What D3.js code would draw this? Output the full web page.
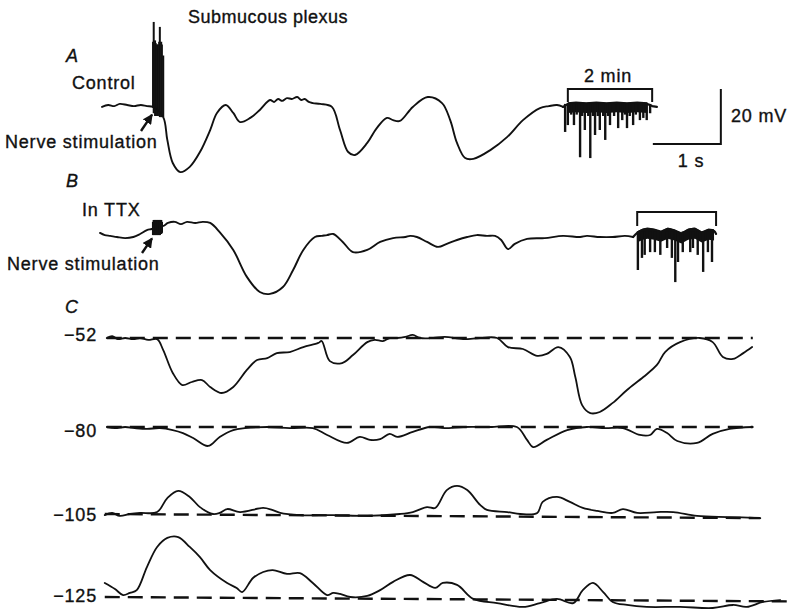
<!DOCTYPE html>
<html><head><meta charset="utf-8">
<script src="https://cdn.jsdelivr.net/npm/d3@7"></script>
<style>
body{margin:0;background:#fff}
text{font-family:"Liberation Sans",Arial,Helvetica,sans-serif;font-size:18px;letter-spacing:0.8px;fill:#111;stroke:#111;stroke-width:0.35px}
</style>
</head><body>
<svg id="chart" width="789" height="610"></svg>
<script>
// ---------------- DATA (time in s, potential in mV) ----------------
// Panel A: control, deflection from resting potential
const traceA_t = [0.03,0.12,0.21,0.29,0.40,0.50,0.60,0.69,0.78,0.93,0.99,1.07,1.18,1.32,1.47,1.62,1.72,1.85,1.96,2.06,2.21,2.35,2.50,2.56,2.62,2.68,2.75,2.82,2.90,2.96,3.01,3.07,3.13,3.24,3.41,3.53,3.65,3.75,3.93,4.07,4.22,4.31,4.41,4.60,4.82,5.03,5.15,5.25,5.37,5.49,5.74,5.99,6.22,6.47,6.60,6.72,6.81];
const traceA_v = [-0.7,0,-0.4,0.4,0,-0.4,0,-0.4,-0.7,-4.4,-12.7,-21.1,-24.4,-22.5,-17.1,-9.1,-2.9,0,-2.9,-6.2,-4.7,-1.8,1.8,1.1,2.2,1.5,2.5,2.2,2.9,1.8,2.2,1.1,0.7,0.4,-0.7,-9.1,-17.1,-18.2,-13.8,-8.4,-4.7,-5.5,-5.8,-0.7,2.9,0.7,-5.5,-13.8,-19.3,-19.6,-16.4,-11.6,-5.5,-1.1,-0.4,0,-0.7];
const burstA_t  = [0.78,0.79,0.81,0.82,0.84,0.85,0.87,0.88,0.90,0.91,0.93];
const burstA_hi = [23,30.2,23.5,22.5,22,22,23,28.4,23,22,18];
const burstA_lo = [-1,-3,-4,-4,-4,-4,-4,-4.4,-4.4,-4.4,-4.4];
const spontA_baseT = [6.81,6.88,7.00,7.15,7.30,7.45,7.60,7.75,7.90,8.05,8.12,8.19];
const spontA_baseV = [-0.7,0.4,0.7,0.4,0.7,0.4,0.7,0.4,0.7,0.4,-0.4,-0.7];
const spontA_t = [6.84,6.88,6.93,6.97,7.01,7.06,7.09,7.13,7.18,7.21,7.25,7.28,7.32,7.35,7.40,7.43,7.47,7.50,7.56,7.62,7.68,7.72,7.75,7.79,7.84,7.88,7.94,7.99,8.04,8.09];
const spontA_v = [-9.8,-7.3,-3.5,-7.3,-3.5,-19,-4,-9.1,-4,-19.3,-4,-10.9,-4,-9.1,-4,-12.7,-4,-7.3,-4,-8.4,-5.5,-3.5,-8.4,-4,-7.3,-3.5,-5.5,-4.7,-5.5,-3];
const bracketA_t = [6.88, 8.12];

// Panel B: in TTX
const traceB_t = [0,0.07,0.15,0.25,0.37,0.49,0.59,0.69,0.76,0.93,1.00,1.10,1.19,1.28,1.40,1.51,1.62,1.76,1.96,2.16,2.35,2.50,2.69,2.84,2.99,3.16,3.26,3.34,3.43,3.57,3.72,3.93,4.12,4.31,4.49,4.56,4.66,4.81,4.97,5.10,5.25,5.40,5.54,5.69,5.81,5.90,6.00,6.10,6.28,6.54,6.81,7.06,7.16,7.35,7.54,7.72,7.84];
const traceB_v = [1.5,0.7,0.4,0,-0.4,0,1.1,2.5,2.9,4,5.1,5.5,4.7,5.5,5.1,5.5,5.1,1.8,-4.7,-14.5,-20,-20.7,-18.2,-12,-4.7,0,0.4,0.7,1.1,-1.8,-5.5,-4.7,-1.8,-0.4,0,0.4,0,-1.8,-3.6,-2.5,-1.1,0,0.7,0.4,0.4,-1.1,-4.4,-2.5,-0.7,-0.4,0.4,0,0.4,0,0,0.4,0];
const burstB_t  = [0.78,0.79,0.81,0.82,0.84,0.85,0.87,0.88,0.90,0.91];
const burstB_hi = [5.5,6.2,6.2,6.2,6.2,6.2,6.2,6.2,6.2,5.5];
const burstB_lo = [0.7,0.7,0.7,0.7,0.7,0.7,0.7,0.7,1.1,1.5];
const spontB_baseT = [7.84,7.90,7.98,8.05,8.15,8.25,8.35,8.45,8.55,8.65,8.75,8.85,8.95,9.03,9.06];
const spontB_baseV = [0,1.5,2.5,2.9,2.5,1.8,2.9,2.2,1.1,2.5,2.9,1.5,2.5,2.2,1.1];
const spontB_t = [7.91,7.97,8.01,8.09,8.16,8.24,8.34,8.41,8.46,8.50,8.57,8.68,8.72,8.79,8.87,8.94,9.00];
const spontB_v = [-12,-7.6,-6.5,-5.5,-5.5,-6.5,-4,-7.6,-16.4,-9.1,-5.5,-5.5,-4,-6.5,-12.7,-5.5,-9.1];
const bracketB_t = [7.90, 9.06];

// Panel C: holding potentials (mV) and traces (absolute mV)
const levelsC = [-52, -80, -105, -125];
const levelLabelsC = ["\u221252", "\u221280", "\u2212105", "\u2212125"];
const dashEndT = [9.6, 9.6, 9.71, 10.13];
const dashEndV = [-52, -80, -106.5, -126.6];
const c1_t = [0.10,0.18,0.26,0.37,0.49,0.59,0.71,0.84,0.93,1.07,1.21,1.35,1.50,1.62,1.79,1.96,2.16,2.31,2.46,2.60,2.79,2.99,3.21,3.26,3.38,3.56,3.72,3.93,4.04,4.16,4.26,4.37,4.49,4.60,4.71,4.90,5.07,5.34,5.59,5.84,6.00,6.22,6.43,6.57,6.74,6.91,6.99,7.09,7.21,7.35,7.54,7.75,7.99,8.19,8.31,8.53,8.82,9.01,9.16,9.31,9.46,9.59];
const c1_v = [-52,-51.3,-52.4,-52,-52.4,-52,-52.7,-52.4,-56.4,-64.7,-69.1,-68,-67.3,-69.8,-72,-69.8,-63.6,-60,-59.3,-57.5,-57.1,-55.3,-53.8,-53.1,-60.4,-61.1,-58.2,-53.5,-52.7,-53.1,-52,-52,-51.6,-50.9,-52,-52,-51.6,-52.4,-52,-52,-55.3,-56,-58.5,-57.8,-55.3,-58.9,-66.2,-76.4,-79.3,-78.9,-75.6,-70.9,-66.2,-61.8,-57.1,-53.5,-52,-53.5,-58.9,-59.6,-57.5,-55.3];
const c2_t = [0.10,0.22,0.37,0.51,0.69,0.88,1.07,1.22,1.37,1.59,1.76,1.96,2.13,2.46,2.79,3.13,3.34,3.63,3.82,3.97,4.12,4.26,4.37,4.60,4.85,5.07,5.34,5.74,6.13,6.28,6.37,6.57,6.87,7.16,7.43,7.69,7.94,8.09,8.19,8.34,8.49,8.78,9.01,9.26,9.60];
const c2_v = [-80,-80.4,-80,-80.4,-80.7,-80.4,-81.1,-82.2,-84,-86.9,-83.6,-81.1,-80.4,-80,-80.4,-80.4,-82.9,-85.8,-83.6,-84.7,-84.4,-82.5,-83.6,-81.8,-80,-80.4,-80,-80,-80,-84.7,-87.3,-84.7,-81.1,-80,-80.4,-80.4,-82.9,-82.9,-80.7,-82.2,-85.1,-85.8,-82.5,-80.7,-80];
const c3_t = [0.07,0.18,0.29,0.44,0.59,0.84,0.99,1.15,1.32,1.47,1.66,1.76,1.87,2.06,2.40,2.53,2.65,2.94,3.43,3.93,4.41,4.60,4.81,4.93,5.10,5.25,5.40,5.59,5.69,5.99,6.18,6.43,6.51,6.72,6.91,7.10,7.31,7.54,7.69,7.90,8.19,8.43,8.78,9.26,9.71];
const c3_v = [-105.4,-104.6,-105.7,-105,-104.6,-104.3,-99.2,-96.6,-98.8,-102.5,-105,-104.6,-103.2,-104.3,-102.8,-103.5,-104.6,-105.4,-105.4,-105.7,-105,-104.3,-102.5,-102.8,-96.3,-94.8,-96.3,-101.7,-103.5,-104.3,-105,-104.6,-100.6,-98.8,-100.6,-102.8,-103.9,-104.6,-103.2,-104.6,-104.3,-104.3,-105.7,-106.1,-106.5];
const c4_t = [0.07,0.22,0.34,0.44,0.54,0.69,0.84,0.99,1.15,1.32,1.47,1.62,1.87,2.01,2.09,2.25,2.40,2.54,2.75,2.94,3.13,3.34,3.43,3.53,3.68,3.93,4.12,4.31,4.56,4.75,4.93,5.04,5.25,5.49,5.84,6.22,6.47,6.72,6.96,7.10,7.25,7.40,7.54,7.75,8.04,8.53,9.01,9.31,9.51,9.75,10.0];
const c4_v = [-119.9,-122.1,-124.3,-123.5,-122.5,-114.1,-106.8,-103.5,-103.2,-106.8,-110.5,-115.2,-119.9,-121.7,-123.2,-118.1,-115.9,-115.2,-116.6,-116.3,-119.9,-124.3,-123.5,-123.9,-125,-124.6,-122.5,-119.5,-117,-119.5,-121.7,-119.9,-120.6,-125.7,-127.2,-128.6,-127.2,-125.7,-127.2,-122.5,-119.9,-123.2,-126.8,-127.9,-128.6,-128.6,-129,-127.9,-128.6,-126.8,-126.1];
const tracesC = [[c1_t,c1_v],[c2_t,c2_v],[c3_t,c3_v],[c4_t,c4_v]];

const scaleBar = {seconds: 1, mV: 20, t0: 8.13};

// ---------------- LAYOUT ----------------
const svg = d3.select("#chart");
const x = d3.scaleLinear().domain([0, 10]).range([100, 780]);
const mVpx = 55 / 20;                       // 20 mV = 55 px
const yA = d3.scaleLinear().domain([0, 20]).range([105, 105 - 20 * mVpx]);
const yB = d3.scaleLinear().domain([0, 20]).range([237, 237 - 20 * mVpx]);
const baseC = [338, 427, 514, 597];
const yC = levelsC.map((L, i) => d3.scaleLinear().domain([L, L + 20]).range([baseC[i], baseC[i] - 20 * mVpx]));

const zip = (a, b) => a.map((d, i) => [d, b[i]]);
const ink = "#111";

function trace(ts, vs, y, w, straight) {
  const gen = d3.line().x(d => x(d[0])).y(d => y(d[1]));
  if (!straight) gen.curve(d3.curveCatmullRom.alpha(0.5));
  svg.append("path").datum(zip(ts, vs))
    .attr("d", gen)
    .attr("fill", "none").attr("stroke", ink).attr("stroke-width", w || 1.9)
    .attr("stroke-linejoin", "round").attr("stroke-linecap", "round");
}
function spikes(ts, hi, lo, y, w) {
  svg.append("g").selectAll("line").data(ts).join("line")
    .attr("x1", d => x(d)).attr("x2", d => x(d))
    .attr("y1", (d, i) => y(hi[i])).attr("y2", (d, i) => y(lo[i]))
    .attr("stroke", ink).attr("stroke-width", w);
}
function band(ts, vs, depth, y) {
  svg.append("path").datum(zip(ts, vs))
    .attr("d", d3.area().x(d => x(d[0])).y0(d => y(d[1] + 0.6)).y1(d => y(d[1] - depth)))
    .attr("fill", ink);
}
function bracket(t, top, leg) {
  svg.append("path")
    .attr("d", `M${x(t[0])},${top + leg}V${top}H${x(t[1])}V${top + leg}`)
    .attr("fill", "none").attr("stroke", ink).attr("stroke-width", 2);
}
function label(txt, px, py, opts = {}) {
  const t = svg.append("text").attr("x", px).attr("y", py).text(txt);
  if (opts.anchor) t.attr("text-anchor", opts.anchor);
  if (opts.italic) t.attr("font-style", "italic");
  return t;
}

svg.append("defs").append("marker").attr("id", "ah")
  .attr("viewBox", "0 0 10 10").attr("refX", 9).attr("refY", 5)
  .attr("markerWidth", 4.2).attr("markerHeight", 4.2).attr("orient", "auto")
  .append("path").attr("d", "M0,0L10,5L0,10Z").attr("fill", ink);
function arrow(x1, y1, x2, y2) {
  svg.append("line").attr("x1", x1).attr("y1", y1).attr("x2", x2).attr("y2", y2)
    .attr("stroke", ink).attr("stroke-width", 2.4).attr("marker-end", "url(#ah)");
}

// ---- Panel A ----
label("Submucous plexus", 188, 23).style("letter-spacing", "0.5px");
label("A", 66, 62, {italic: true});
label("Control", 72, 89);
label("Nerve stimulation", 5, 148);
trace(traceA_t, traceA_v, yA);
spikes(burstA_t, burstA_hi, burstA_lo, yA, 2);
trace(spontA_baseT, spontA_baseV, yA, 2.2, true);
band(spontA_baseT.slice(1, 10), spontA_baseV.slice(1, 10), 3.3, yA);
spikes(spontA_t, spontA_t.map(() => 0.4), spontA_v, yA, 2.4);
arrow(141, 131, x(burstA_t[0]) - 1, yA(-3.5));
bracket(bracketA_t, 89, 13);
label("2 min", 608, 82, {anchor: "middle"});

// scale bar
const sbX1 = x(scaleBar.t0), sbX2 = x(scaleBar.t0 + scaleBar.seconds);
const sbY = 144, sbTop = sbY - (yA(0) - yA(scaleBar.mV));
svg.append("path").attr("d", `M${sbX1},${sbY}H${sbX2}V${sbTop}`)
  .attr("fill", "none").attr("stroke", ink).attr("stroke-width", 2);
label(`${scaleBar.mV} mV`, 731, 122);
label(`${scaleBar.seconds} s`, 691, 167, {anchor: "middle"});

// ---- Panel B ----
label("B", 66, 187, {italic: true});
label("In TTX", 82, 216);
label("Nerve stimulation", 7, 270);
trace(traceB_t, traceB_v, yB);
spikes(burstB_t, burstB_hi, burstB_lo, yB, 2.2);
trace(spontB_baseT, spontB_baseV, yB, 2.2);
band(spontB_baseT.slice(1, 14), spontB_baseV.slice(1, 14), 3.5, yB);
spikes(spontB_t, spontB_t.map(() => 2), spontB_v, yB, 2.4);
arrow(142, 253, x(burstB_t[0]) - 1, yB(-0.5));
bracket(bracketB_t, 212, 14);

// ---- Panel C ----
label("C", 65, 313, {italic: true});
const labelBaseline = [341, 437, 521, 602];
levelsC.forEach((L, i) => {
  label(levelLabelsC[i], 97, labelBaseline[i], {anchor: "end"});
  svg.append("line")
    .attr("x1", x(tracesC[i][0][0])).attr("x2", x(dashEndT[i]))
    .attr("y1", yC[i](L)).attr("y2", yC[i](dashEndV[i]))
    .attr("stroke", ink).attr("stroke-width", 2.4).attr("stroke-dasharray", "15,8");
  trace(tracesC[i][0], tracesC[i][1], yC[i], 1.8);
});
</script>
</body></html>
